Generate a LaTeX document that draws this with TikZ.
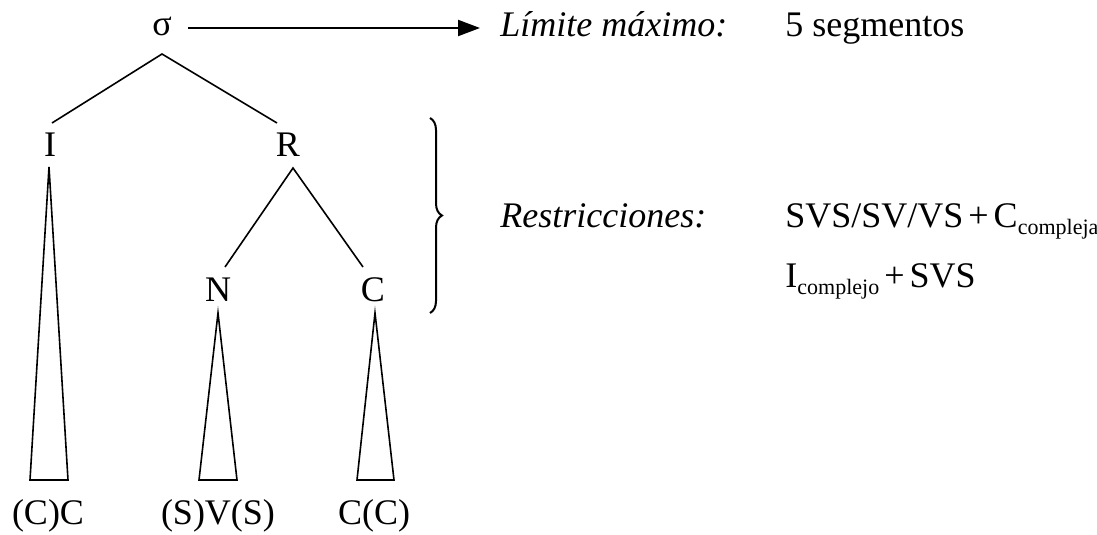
\documentclass[tikz,border=0pt]{standalone}
\usepackage{fontspec}
\setmainfont{Liberation Serif}
\usetikzlibrary{arrows.meta,decorations.pathreplacing}
\newcommand{\subtx}[1]{\raisebox{-3.5pt}{\fontsize{11}{12}\selectfont #1}}
\begin{document}
\begin{tikzpicture}[x=0.5pt,y=-0.5pt,
  lbl/.style={inner sep=0pt,font=\fontsize{18}{22}\selectfont},
  itlbl/.style={lbl,font=\fontsize{18}{22}\selectfont\itshape},
  edge/.style={line width=0.8pt},
  arr/.style={line width=1.1pt,-{Triangle[length=11pt,width=8pt]}},
  bracestyle/.style={line width=1pt,decorate,decoration={brace,amplitude=6pt}}]
\useasboundingbox (0,0) rectangle (1097,535);
% tree labels
\node[lbl] (sig) at (162,26) {σ};
\node[lbl] (I) at (50,145) {I};
\node[lbl] (R) at (288,145) {R};
\node[lbl] (N) at (218,290) {N};
\node[lbl] (C) at (373,290) {C};
\node[lbl,anchor=base] (cc) at (48,524) {(C)C};
\node[lbl,anchor=base] (svs) at (218,524) {(S)V(S)};
\node[lbl,anchor=base] (ccc) at (374,524) {C(C)};
% right texts
\node[itlbl,anchor=base west] (lim) at (500,37) {Límite máximo:};
\node[lbl,anchor=base west] (seg) at (785,37) {5 segmentos};
\node[itlbl,anchor=base west] (res) at (500,227) {Restricciones:};
\node[lbl,anchor=base west] (r1) at (785,227) {SVS/SV/VS\hspace{2.5pt}+\hspace{2.5pt}C\subtx{compleja}};
\node[lbl,anchor=base west] (r2) at (785,287) {I\subtx{complejo}\hspace{2.5pt}+\hspace{2.5pt}SVS};
% branch points
\coordinate (sA) at (162,54);
\coordinate (sL) at (52,123);
\coordinate (sR) at (277,123);
\coordinate (rA) at (293,168);
\coordinate (rL) at (225,267);
\coordinate (rR) at (363,267);
\coordinate (iA) at (49,167);
\coordinate (iL) at (30,480);
\coordinate (iR) at (68,480);
\coordinate (nA) at (218,313);
\coordinate (nL) at (199,480);
\coordinate (nR) at (237,480);
\coordinate (cA) at (375,313);
\coordinate (cL) at (357,480);
\coordinate (cR) at (394,480);
\coordinate (bT) at (430,118);
\coordinate (bB) at (430,313);
% edges
\draw[edge] (sL) -- (sA) -- (sR);
\draw[edge] (rL) -- (rA) -- (rR);
\draw[edge] (iA) -- (iL) -- (iR) -- cycle;
\draw[edge] (nA) -- (nL) -- (nR) -- cycle;
\draw[edge] (cA) -- (cL) -- (cR) -- cycle;
% arrow
\draw[arr] ([xshift=8pt,yshift=-1pt]sig.east) -- ([xshift=-10pt,yshift=-1pt]sig.east -| lim.west);
% brace
\draw[bracestyle] (bT) -- (bB);
\end{tikzpicture}
\end{document}
